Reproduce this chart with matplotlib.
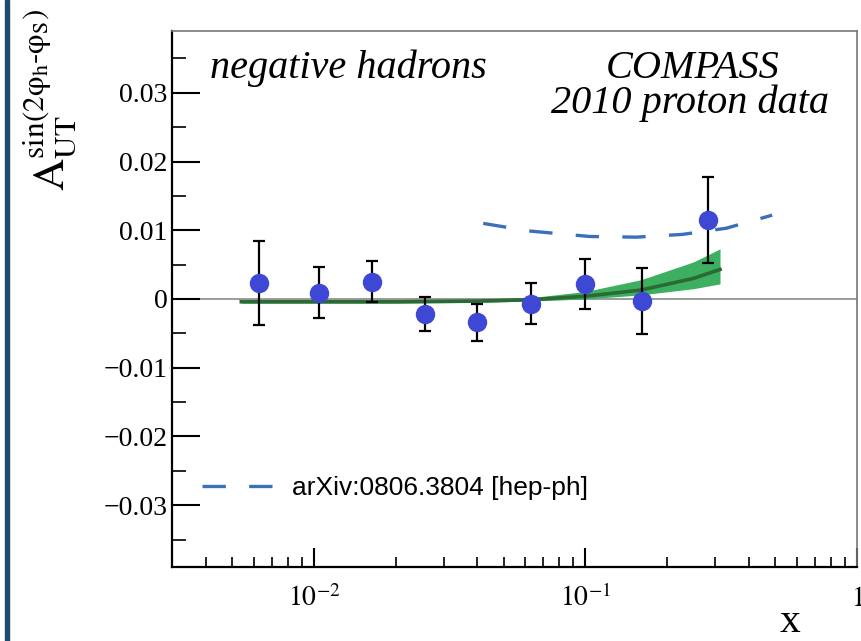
import matplotlib
matplotlib.use("Agg")
import matplotlib.pyplot as plt
from matplotlib.patches import Rectangle
from matplotlib.ticker import FixedLocator, NullFormatter, MultipleLocator

plt.rcParams['mathtext.fontset'] = 'stix'

# COMPASS 2010 proton data, negative hadrons
x_data = [0.0063, 0.0104, 0.0163, 0.0256, 0.0397, 0.0628, 0.100, 0.161, 0.283]
y_data = [0.0023, 0.0009, 0.0025, -0.0022, -0.0034, -0.0007, 0.0022, -0.0003, 0.0115]
y_err = [0.0061, 0.0037, 0.0030, 0.0025, 0.0027, 0.0030, 0.0036, 0.0048, 0.0062]

# model curve (arXiv:0806.3804)
x_model = [0.042, 0.062, 0.1035, 0.154, 0.2275, 0.33, 0.487]
y_model = [0.0110, 0.0099, 0.0091, 0.0090, 0.0094, 0.0103, 0.0122]

# fit line with band
x_fit = [0.0054, 0.01, 0.02, 0.04, 0.063, 0.1, 0.16, 0.25, 0.313]
y_fit = [-0.0004, -0.0004, -0.0004, -0.0003, -0.0001, 0.0004, 0.0013, 0.0030, 0.0043]
y_fit_hi = [-0.0002, -0.0002, -0.0002, -0.0001, 0.0002, 0.0011, 0.0028, 0.0054, 0.0073]
y_fit_lo = [-0.0006, -0.0006, -0.0006, -0.0005, -0.0003, 0.0000, 0.0006, 0.0015, 0.0022]

y_ticks = [-0.03, -0.02, -0.01, 0, 0.01, 0.02, 0.03]
y_ticklabels = ['\u22120.03', '\u22120.02', '\u22120.01', '0', '0.01', '0.02', '0.03']
x_ticks = [0.01, 0.1, 1]
x_ticklabels = [r'$10^{-2}$', r'$10^{-1}$', r'$1$']

fig = plt.figure(figsize=(8.62, 6.41), dpi=100)
ax = fig.add_axes([172 / 862, 74 / 641, 685 / 862, 536 / 641])

# dark bar at the left edge
fig.patches.append(Rectangle((5 / 862, 0), 4 / 862, 1, transform=fig.transFigure,
                             color='#1d4a6e', zorder=0))

ax.axhline(0, color='#8a8a8a', lw=1.2, zorder=1)

ax.fill_between(x_fit, y_fit_lo, y_fit_hi, color='#3cb060', lw=0, zorder=2)
ax.plot(x_fit, y_fit, color='#2b6a35', lw=2.6, zorder=3)

dash_line, = ax.plot(x_model, y_model, color='#3b6fbb', lw=2.4, zorder=2,
                     label='arXiv:0806.3804 [hep-ph]')
dash_line.set_dashes((7, 7))

ax.errorbar(x_data, y_data, yerr=y_err, fmt='o', color='#3e48d4', ms=13,
            ecolor='black', elinewidth=1.6, capsize=4, capthick=1.6, zorder=4)

ax.set_xscale('log')
ax.set_xlim(0.003, 1)
ax.set_ylim(-0.039, 0.039)

serif = 'Liberation Serif'
ax.xaxis.set_major_locator(FixedLocator(x_ticks))
ax.set_xticklabels(x_ticklabels, fontsize=20)
minors = [k * 10.0 ** e for e in (-3, -2, -1) for k in range(2, 10)]
ax.xaxis.set_minor_locator(FixedLocator(minors))
ax.xaxis.set_minor_formatter(NullFormatter())

ax.set_yticks(y_ticks)
ax.set_yticklabels(y_ticklabels, family=serif, fontsize=20)
ax.yaxis.set_minor_locator(MultipleLocator(0.005))

ax.tick_params(axis='x', which='major', direction='in', length=14, width=1.5,
               pad=12, top=False)
ax.tick_params(axis='x', which='minor', direction='in', length=7, width=1.2, top=False)
ax.tick_params(axis='y', which='major', direction='in', length=20, width=1.5,
               right=False, pad=3)
ax.tick_params(axis='y', which='minor', direction='in', length=10, width=1.2, right=False)

for s in ('left', 'bottom'):
    ax.spines[s].set_linewidth(1.6)
    ax.spines[s].set_color('black')
for s in ('top', 'right'):
    ax.spines[s].set_linewidth(1.2)
    ax.spines[s].set_color('#777777')

ax.text(0.055, 0.93, 'negative hadrons', transform=ax.transAxes, family=serif,
        style='italic', fontsize=29, ha='left', va='center')
ax.text(0.76, 0.93, 'COMPASS', transform=ax.transAxes, family=serif,
        style='italic', fontsize=29, ha='center', va='center')
ax.text(0.756, 0.865, '2010 proton data', transform=ax.transAxes, family=serif,
        style='italic', fontsize=29, ha='center', va='center')

leg = ax.legend(loc='lower left', bbox_to_anchor=(0.009, 0.08), frameon=False,
                handlelength=3.3, handletextpad=0.1,
                prop={'family': 'Liberation Sans', 'size': 19})

fig.text(0.058, 1 - 100 / 641,
         r'$\mathrm{A}_{\mathrm{UT}}^{\mathrm{sin(2\varphi_h\text{-}\varphi_S)}}$',
         rotation=90, ha='center', va='center', fontsize=32)
fig.text(790 / 862, 1 - 622 / 641, 'x', family=serif, fontsize=30,
         ha='center', va='center')

fig.savefig('out.png', dpi=100)
